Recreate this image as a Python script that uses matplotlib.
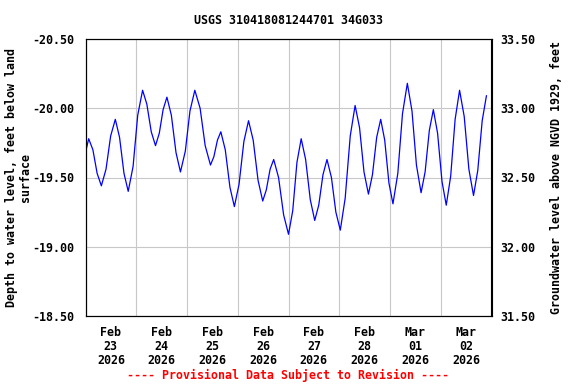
import matplotlib
matplotlib.use("Agg")
import matplotlib.pyplot as plt
import matplotlib.dates as mdates
import pandas as pd

# hours after 2026-02-23 00:00 and depth to water (ft below land surface)
hours = [0.0, 1.5, 3.5, 5.5, 7.5, 9.7, 11.9, 14.1, 16.1, 18.2, 20.2, 22.5, 24.7, 27.0,
         29.0, 31.1, 33.1, 34.9, 36.7, 38.5, 40.6, 42.8, 44.9, 47.2, 49.4, 51.7,
         54.2, 56.6, 59.1, 60.7, 62.4, 64.0, 66.1, 68.3, 70.4, 72.6, 74.9, 77.1,
         79.3, 81.6, 83.8, 85.5, 87.3, 89.0, 91.3, 93.7, 96.0, 98.0, 100.0, 102.0,
         104.1, 106.3, 108.4, 110.3, 112.3, 114.2, 116.3, 118.4, 120.5, 122.8, 125.2,
         127.5, 129.6, 131.7, 133.8, 135.7, 137.7, 139.6, 141.5, 143.5, 145.4,
         147.7, 149.9, 152.2, 154.4, 156.5, 158.7, 160.6, 162.6, 164.5, 166.5,
         168.6, 170.6, 172.7, 174.8, 176.9, 179.1, 181.3, 183.5, 185.5, 187.6, 189.6]
depth = [-19.68, -19.78, -19.70, -19.53, -19.44, -19.56, -19.80, -19.92, -19.79, -19.53,
         -19.40, -19.58, -19.95, -20.13, -20.03, -19.83, -19.73, -19.82, -19.99, -20.08,
         -19.95, -19.68, -19.54, -19.69, -19.98, -20.13, -20.00, -19.73, -19.59, -19.65,
         -19.77, -19.83, -19.70, -19.43, -19.29, -19.45, -19.76, -19.91, -19.77, -19.48,
         -19.33, -19.41, -19.56, -19.63, -19.50, -19.23, -19.09, -19.26, -19.61, -19.78,
         -19.63, -19.34, -19.19, -19.30, -19.52, -19.63, -19.50, -19.25, -19.12, -19.35,
         -19.80, -20.02, -19.86, -19.54, -19.38, -19.52, -19.79, -19.92, -19.77, -19.46,
         -19.31, -19.53, -19.96, -20.18, -19.98, -19.59, -19.39, -19.54, -19.84, -19.99,
         -19.82, -19.47, -19.30, -19.51, -19.92, -20.13, -19.94, -19.56, -19.37, -19.55,
         -19.91, -20.09]

start = pd.Timestamp("2026-02-23")
end = pd.Timestamp("2026-03-03")
times = start + pd.to_timedelta(hours, unit="h")

left_ticks = [-20.5, -20.0, -19.5, -19.0, -18.5]
right_ticks = [33.5, 33.0, 32.5, 32.0, 31.5]

plt.rcParams["font.family"] = "DejaVu Sans Mono"
plt.rcParams["font.weight"] = "bold"
fs = 8.4

fig = plt.figure(figsize=(5.76, 3.84), dpi=100)
ax = fig.add_axes([85.5 / 576, 1 - 316 / 384, 406 / 576, 277 / 384])

ax.plot(times, depth, color="#0000ff", lw=0.9)

ax.set_xlim(start, end)
ax.set_ylim(-18.5, -20.5)
ax.set_yticks(left_ticks)
ax.set_yticklabels([f"{v:.2f}" for v in left_ticks])

ax.xaxis.set_major_locator(mdates.DayLocator())
ax.xaxis.set_major_formatter(plt.NullFormatter())
ax.xaxis.set_minor_locator(mdates.HourLocator(byhour=[12]))
ax.xaxis.set_minor_formatter(mdates.DateFormatter("%b\n%d\n%Y"))
ax.grid(True, which="major", color="#c8c8c8", lw=0.8)
ax.set_axisbelow(True)

ax.tick_params(axis="y", length=0, pad=8, labelsize=fs)
ax.tick_params(axis="x", which="both", length=0, pad=7, labelsize=fs)
for lab in ax.xaxis.get_minorticklabels():
    lab.set_linespacing(1.1)
    lab.set_fontweight("bold")

ax2 = ax.twinx()
ax2.set_ylim(31.5, 33.5)
ax2.set_yticks(right_ticks)
ax2.set_yticklabels([f"{v:.2f}" for v in right_ticks])
ax2.tick_params(axis="y", length=0, pad=6, labelsize=fs)

for a in (ax, ax2):
    for s in a.spines.values():
        s.set_color("black")
        s.set_linewidth(0.8)

fig.text(0.5, 1 - 20 / 384, "USGS 310418081244701 34G033", ha="center", va="center",
         fontsize=fs, fontweight="bold")
fig.text(18.5 / 576, 1 - 177.5 / 384, "Depth to water level, feet below land\nsurface",
         rotation=90, ha="center", va="center", multialignment="center",
         fontsize=fs, fontweight="bold", linespacing=1.1)
fig.text(556.7 / 576, 1 - 177.5 / 384, "Groundwater level above NGVD 1929, feet",
         rotation=90, ha="center", va="center", fontsize=fs, fontweight="bold")
fig.text(0.5, 1 - 375 / 384, "---- Provisional Data Subject to Revision ----",
         ha="center", va="center", color="red", fontsize=fs, fontweight="bold")

fig.savefig("out.png", dpi=100)
